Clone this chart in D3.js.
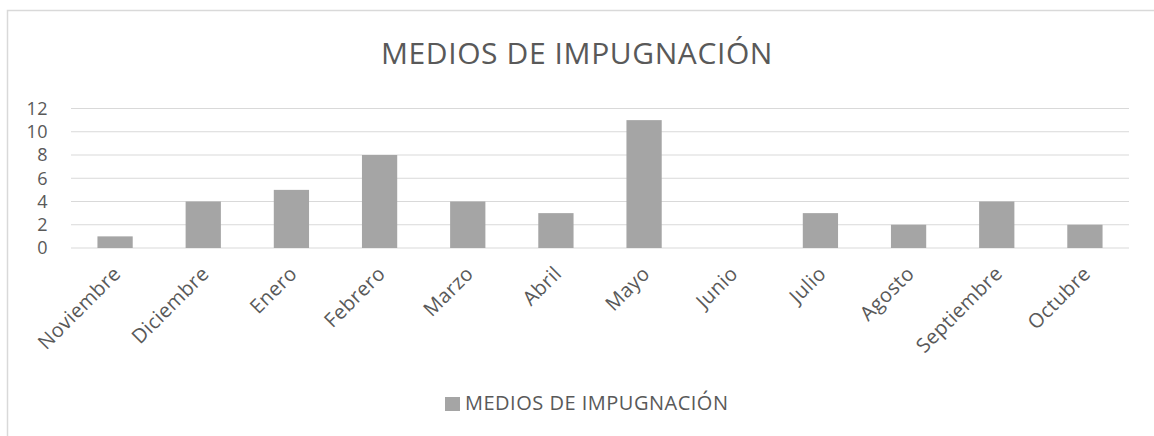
<!DOCTYPE html>
<html>
<head>
<meta charset="utf-8">
<script src="https://cdn.jsdelivr.net/npm/d3@7"></script>
<style>
  body { margin: 0; background: #fff; }
  text { font-family: "Open Sans", sans-serif; fill: #595959; }
</style>
</head>
<body>
<svg id="chart" width="1154" height="436"></svg>
<script>
// chart data
let months = ["Noviembre", "Diciembre", "Enero", "Febrero", "Marzo", "Abril", "Mayo", "Junio", "Julio", "Agosto", "Septiembre", "Octubre"]
let values = [1, 4, 5, 8, 4, 3, 11, 0, 3, 2, 4, 2]
let yTicks = [0, 2, 4, 6, 8, 10, 12]
let titleText = "MEDIOS DE IMPUGNACIÓN"
let seriesName = "MEDIOS DE IMPUGNACIÓN"

let svg = d3.select('#chart')
let barColor = '#a5a5a5'
let gridColor = '#d9d9d9'

// outer chart frame (right and bottom run off the picture)
svg.append('path')
    .attr('d', 'M7.5,436 V10.5 H1154')
    .attr('fill', 'none')
    .attr('stroke', gridColor)
    .attr('stroke-width', 1.5)

let plotLeft = 71
let plotRight = 1129

let x = d3.scaleBand()
    .domain(months)
    .range([plotLeft, plotRight])
    .padding(0)

let y = d3.scaleLinear()
    .domain([0, 12])
    .range([248, 108.5])

// gridlines
svg.append('g')
    .selectAll('line')
    .data(yTicks)
    .enter()
    .append('line')
    .attr('x1', plotLeft)
    .attr('x2', plotRight)
    .attr('y1', d => y(d))
    .attr('y2', d => y(d))
    .attr('stroke', gridColor)
    .attr('stroke-width', 1.2)

// y axis labels
svg.append('g')
    .selectAll('text')
    .data(yTicks)
    .enter()
    .append('text')
    .attr('x', 48)
    .attr('y', d => y(d))
    .attr('dy', '0.36em')
    .attr('text-anchor', 'end')
    .style('font-size', '18px')
    .style('letter-spacing', '0.4px')
    .text(d => d)

// bars, gap width 150%
let barW = x.bandwidth() / 2.5
svg.append('g')
    .selectAll('rect')
    .data(values)
    .enter()
    .append('rect')
    .attr('x', (d, i) => x(months[i]) + x.bandwidth() / 2 - barW / 2)
    .attr('y', d => y(d))
    .attr('width', barW)
    .attr('height', d => y(0) - y(d))
    .attr('fill', barColor)

// x axis labels, rotated
svg.append('g')
    .selectAll('text')
    .data(months)
    .enter()
    .append('text')
    .attr('transform', d => 'translate(' + (x(d) + x.bandwidth() / 2 - 3) + ',265) rotate(-45)')
    .attr('text-anchor', 'end')
    .attr('dy', '0.7em')
    .style('font-size', '20px')
    .style('letter-spacing', '0.4px')
    .text(d => d)

// title
svg.append('text')
    .attr('x', 577)
    .attr('y', 64)
    .attr('text-anchor', 'middle')
    .style('font-size', '30px')
    .style('letter-spacing', '0.6px')
    .text(titleText)

// legend
let legend = svg.append('g')
legend.append('rect')
    .attr('x', 445)
    .attr('y', 397)
    .attr('width', 15)
    .attr('height', 14)
    .attr('fill', barColor)
legend.append('text')
    .attr('x', 465)
    .attr('y', 410)
    .style('font-size', '20px')
    .style('letter-spacing', '0.5px')
    .text(seriesName)
</script>
</body>
</html>
